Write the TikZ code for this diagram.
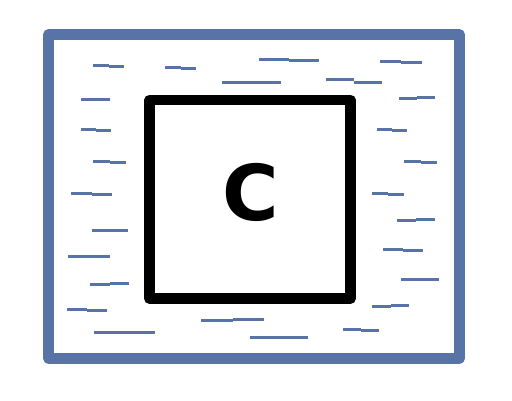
\documentclass[tikz,border=0pt]{standalone}
\usepackage{fontspec}
\newfontfamily\labelfont{DejaVu Sans}
\definecolor{hatchblue}{HTML}{5873A6}
\begin{document}
\begin{tikzpicture}[x=1pt,y=-1pt]
	\useasboundingbox (0,0) rectangle (512,400);
	\draw[hatchblue, line width=10.5pt, line join=round] (48.5,34.5) rectangle (459.5,358.5);
	\draw[black, line width=10.7pt, line join=round] (149.5,100) rectangle (350.5,298.5);
	\node[inner sep=0pt] (c) at (251,192.5) {\labelfont\bfseries\fontsize{77}{77}\selectfont C};
	
	% trazos del sombreado
	\foreach \xa/\xb/\ya/\yb in {93/124/65.5/66.5, 165/196/67.5/68.5, 222/281/82.5/82.5,
		259/319/59.5/60.5, 380/422/61.5/62.5, 326/382/79.5/82.5, 399/435/98.5/97.5,
		81/110/99.5/99.5, 81/111/129.5/130.5, 93/126/161.5/162.5, 71/112/193.5/194.5,
		377/407/129.5/130.5, 404/437/161.5/162.5, 372/404/193.5/194.5, 92/128/230.5/230.5,
		68/110/256.5/256.5, 90/129/284.5/283.5, 67/107/309.5/310.5, 94/155/332.5/332.5,
		201/264/320.5/319.5, 250/308/337.5/337.5, 397/435/220.5/219.5, 383/423/249.5/250.5,
		401/439/279.5/279.5, 372/409/306.5/305.5, 343/379/329.5/330.5} {
		\draw[hatchblue, line width=2.6pt] (\xa,\ya) -- ({(\xa+\xb)/2},\ya) ({(\xa+\xb)/2},\yb) -- (\xb,\yb);
	}
\end{tikzpicture}
\end{document}
